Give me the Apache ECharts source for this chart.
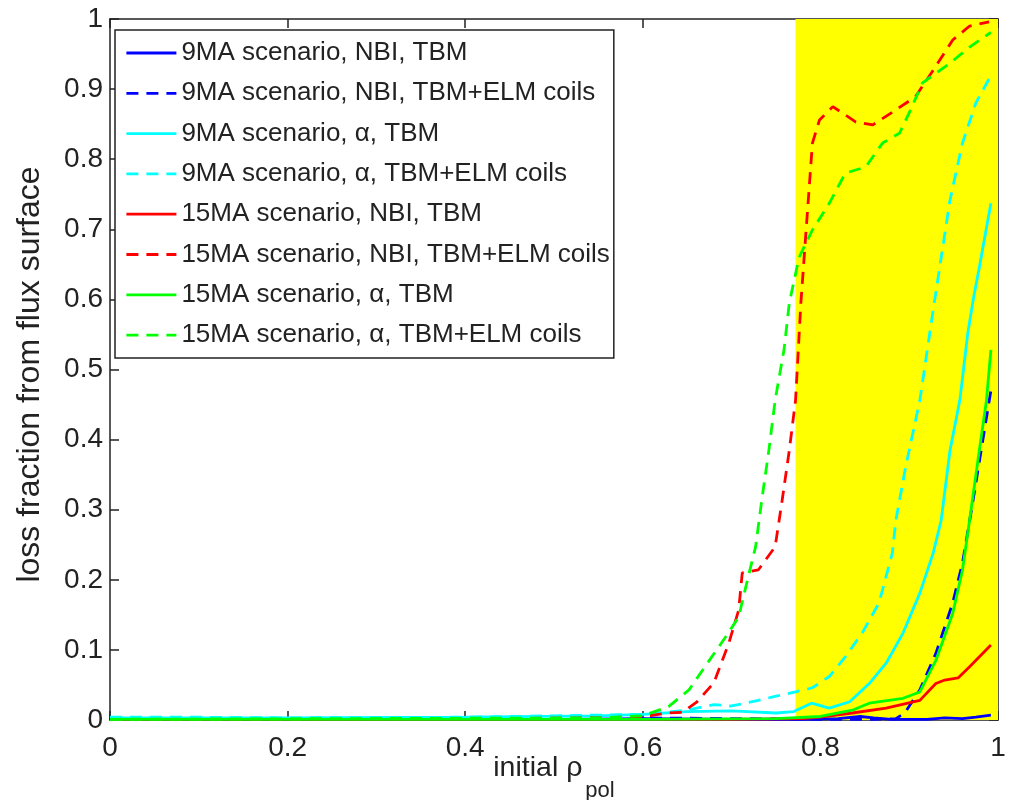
<!DOCTYPE html>
<html>
<head>
<meta charset="utf-8">
<title>Loss fraction vs initial rho_pol</title>
<script src="https://cdn.jsdelivr.net/npm/echarts@6/dist/echarts.min.js"></script>
<style>
  html, body { margin: 0; padding: 0; background: #fff; }
  #chart { width: 1012px; height: 800px; }
</style>
</head>
<body>
<div id="chart"></div>
<script>
// Loss fraction from flux surface versus initial rho_pol, points as [rho_pol, fraction]
const nbi9Tbm = [[0,0.001],[0.1,0.001],[0.3,0.001],[0.5,0.001],[0.6,0.002],[0.7,0.001],[0.78,0.001],[0.82,0.002],[0.845,0.005],[0.86,0.003],[0.88,0.001],[0.92,0.001],[0.94,0.003],[0.96,0.002],[0.975,0.004],[0.992,0.007]];
const nbi9Elm = [[0,0.002],[0.1,0.003],[0.2,0.002],[0.3,0.002],[0.4,0.002],[0.47,0.004],[0.5,0.003],[0.55,0.004],[0.6,0.003],[0.7,0.002],[0.8,0.001],[0.86,0.001],[0.885,0.002],[0.895,0.01],[0.912,0.043],[0.93,0.095],[0.949,0.167],[0.96,0.224],[0.972,0.314],[0.983,0.4],[0.992,0.47]];
const alpha9Tbm = [[0,0.003],[0.2,0.003],[0.4,0.004],[0.55,0.006],[0.6,0.008],[0.65,0.012],[0.7,0.013],[0.75,0.01],[0.77,0.012],[0.79,0.024],[0.81,0.017],[0.833,0.026],[0.855,0.052],[0.874,0.081],[0.893,0.124],[0.912,0.181],[0.927,0.238],[0.936,0.285],[0.946,0.385],[0.957,0.456],[0.966,0.552],[0.972,0.599],[0.979,0.646],[0.992,0.737]];
const alpha9Elm = [[0,0.004],[0.1,0.004],[0.2,0.003],[0.4,0.004],[0.5,0.006],[0.6,0.008],[0.65,0.014],[0.68,0.022],[0.7,0.02],[0.73,0.028],[0.75,0.034],[0.772,0.04],[0.791,0.046],[0.81,0.062],[0.828,0.09],[0.847,0.124],[0.866,0.167],[0.881,0.238],[0.885,0.285],[0.896,0.361],[0.912,0.456],[0.927,0.585],[0.946,0.742],[0.96,0.823],[0.975,0.88],[0.991,0.917]];
const nbi15Tbm = [[0,0.001],[0.5,0.001],[0.7,0.001],[0.78,0.002],[0.8,0.004],[0.836,0.01],[0.874,0.017],[0.912,0.028],[0.93,0.052],[0.94,0.057],[0.955,0.06],[0.968,0.076],[0.992,0.107]];
const nbi15Elm = [[0,0.001],[0.3,0.001],[0.55,0.003],[0.6,0.005],[0.629,0.01],[0.645,0.011],[0.661,0.026],[0.68,0.053],[0.697,0.11],[0.708,0.157],[0.712,0.21],[0.73,0.214],[0.749,0.247],[0.757,0.314],[0.765,0.385],[0.772,0.456],[0.778,0.595],[0.791,0.823],[0.799,0.856],[0.814,0.875],[0.84,0.853],[0.859,0.849],[0.881,0.867],[0.907,0.889],[0.927,0.927],[0.949,0.97],[0.968,0.99],[0.99,0.996]];
const alpha15Tbm = [[0,0.001],[0.6,0.001],[0.75,0.002],[0.8,0.005],[0.836,0.014],[0.855,0.024],[0.893,0.031],[0.912,0.04],[0.93,0.085],[0.949,0.152],[0.96,0.214],[0.968,0.285],[0.979,0.385],[0.987,0.456],[0.992,0.528]];
const alpha15Elm = [[0,0.001],[0.55,0.003],[0.6,0.006],[0.629,0.019],[0.652,0.043],[0.67,0.076],[0.693,0.118],[0.708,0.147],[0.716,0.19],[0.727,0.247],[0.734,0.314],[0.742,0.385],[0.749,0.456],[0.759,0.528],[0.765,0.595],[0.776,0.66],[0.791,0.699],[0.81,0.737],[0.828,0.78],[0.851,0.789],[0.87,0.823],[0.889,0.837],[0.9,0.866],[0.915,0.909],[0.946,0.937],[0.968,0.96],[0.992,0.981]];

const seriesNames = [
  '9MA scenario, NBI, TBM',
  '9MA scenario, NBI, TBM+ELM coils',
  '9MA scenario, \u03b1, TBM',
  '9MA scenario, \u03b1, TBM+ELM coils',
  '15MA scenario, NBI, TBM',
  '15MA scenario, NBI, TBM+ELM coils',
  '15MA scenario, \u03b1, TBM',
  '15MA scenario, \u03b1, TBM+ELM coils'
];
const seriesData = [nbi9Tbm, nbi9Elm, alpha9Tbm, alpha9Elm, nbi15Tbm, nbi15Elm, alpha15Tbm, alpha15Elm];
const seriesColors = ['#0000ff', '#0000ff', '#00ffff', '#00ffff', '#ff0000', '#ff0000', '#00ff00', '#00ff00'];
const seriesDashed = [false, true, false, true, false, true, false, true];

// Shaded edge region in rho_pol
const edgeRegion = [0.772, 1];
const xTicks = [0, 0.2, 0.4, 0.6, 0.8, 1];

const FONT = '"Liberation Sans", Arial, Helvetica, sans-serif';

const chart = echarts.init(document.getElementById('chart'), null, { renderer: 'canvas' });

const series = seriesNames.map((name, i) => ({
  name: name,
  type: 'line',
  data: seriesData[i],
  symbol: 'none',
  smooth: false,
  color: seriesColors[i],
  lineStyle: { color: seriesColors[i], width: 2.8, type: seriesDashed[i] ? [12, 8] : 'solid' },
  z: 3 + i,
  animation: false
}));

series.unshift({
  name: 'edge',
  type: 'line',
  data: [],
  symbol: 'none',
  z: 1,
  silent: true,
  animation: false,
  markArea: {
    silent: true,
    itemStyle: { color: '#ffff00', opacity: 1 },
    data: [[{ xAxis: edgeRegion[0] }, { xAxis: edgeRegion[1] }]]
  }
});

const axisLineStyle = { show: true, onZero: false, lineStyle: { color: '#222', width: 1.5 } };
const tickStyle = { show: true, inside: true, length: 9, lineStyle: { color: '#222', width: 1.5 } };

chart.setOption({
  backgroundColor: '#fff',
  animation: false,
  grid: { left: 110, right: 14, top: 19, bottom: 80, containLabel: false, outerBoundsMode: 'none' },
  legend: {
    data: seriesNames,
    orient: 'vertical',
    left: 115,
    top: 30,
    itemWidth: 50,
    itemHeight: 14,
    itemGap: 10.3,
    padding: [8, 4, 8, 10],
    backgroundColor: '#fff',
    borderColor: '#222',
    borderWidth: 1.5,
    borderRadius: 0,
    selectedMode: false,
    itemStyle: { color: 'rgba(0,0,0,0)', borderColor: 'rgba(0,0,0,0)', borderWidth: 0 },
    lineStyle: { width: 2.8 },
    textStyle: { fontFamily: FONT, fontSize: 26, color: '#222', lineHeight: 30 }
  },
  xAxis: [
    {
      type: 'value', min: 0, max: 1, interval: 0.2, position: 'bottom',
      axisLine: axisLineStyle, axisTick: tickStyle, splitLine: { show: false },
      axisLabel: { fontFamily: FONT, fontSize: 28, color: '#222', margin: 14,
        formatter: v => (xTicks.includes(Math.round(v * 10) / 10) ? String(Math.round(v * 10) / 10) : '') },
      name: '{m|initial \u03c1}{s|pol}',
      nameLocation: 'middle',
      nameGap: 34,
      nameMoveOverlap: false,
      nameTextStyle: {
        fontFamily: FONT, color: '#222',
        rich: {
          m: { fontFamily: FONT, fontSize: 28.5, color: '#222', padding: [0, 0, 19, 0], verticalAlign: 'bottom' },
          s: { fontFamily: FONT, fontSize: 22, color: '#222', padding: [0, 0, 0, 3], verticalAlign: 'bottom' }
        }
      }
    },
    {
      type: 'value', min: 0, max: 1, interval: 0.2, position: 'top',
      axisLine: axisLineStyle, axisTick: tickStyle, axisLabel: { show: false }, splitLine: { show: false }
    }
  ],
  yAxis: [
    {
      type: 'value', min: 0, max: 1, interval: 0.1, position: 'left',
      axisLine: axisLineStyle, axisTick: tickStyle, splitLine: { show: false },
      axisLabel: { fontFamily: FONT, fontSize: 28, color: '#222', margin: 7,
        formatter: v => String(Math.round(v * 10) / 10) },
      name: 'loss fraction from flux surface',
      nameLocation: 'middle',
      nameGap: 64,
      nameMoveOverlap: false,
      nameTextStyle: { fontFamily: FONT, fontSize: 32, color: '#222', padding: [0, 10, 0, 0] }
    },
    {
      type: 'value', min: 0, max: 1, interval: 0.1, position: 'right',
      axisLine: axisLineStyle, axisTick: tickStyle, axisLabel: { show: false }, splitLine: { show: false }
    }
  ],
  series: series
});
</script>
</body>
</html>
